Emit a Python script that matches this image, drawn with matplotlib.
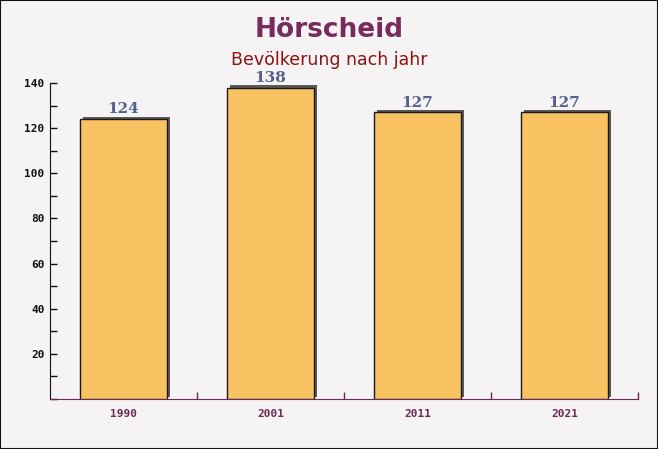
import matplotlib
matplotlib.use("Agg")
import matplotlib.pyplot as plt
import matplotlib.patheffects as pe
from matplotlib.ticker import MultipleLocator, FixedLocator

years = ["1990", "2001", "2011", "2021"]
population = [124, 138, 127, 127]

title = "Hörscheid"
subtitle = "Bevölkerung nach jahr"

fig = plt.figure(figsize=(6.58, 4.49), dpi=100)
fig.patch.set_facecolor("#f5f3f3")
ax = fig.add_axes([50/658, 1-399/449, (638-50)/658, (399-83)/449])
ax.set_facecolor("none")

x = list(range(len(years)))
bars = ax.bar(x, population, width=0.59, color="#f9c263", alpha=1.0,
              edgecolor="#1a1a1a", linewidth=1.0, zorder=3)
for b in bars:
    b.set_path_effects([pe.SimplePatchShadow(offset=(2.3, 1.8), shadow_rgbFace="#5d5858", alpha=1.0),
                        pe.Normal()])

for xi, v in zip(x, population):
    ax.annotate(str(v), (xi, v), xytext=(0, 2), textcoords="offset points",
                ha="center", va="bottom", fontsize=11, fontweight="bold",
                family="DejaVu Serif", color="#56608e", zorder=4)

ax.set_xlim(-0.5, len(years) - 0.5)
ax.set_ylim(0, 140)

ax.yaxis.set_major_locator(FixedLocator([20, 40, 60, 80, 100, 120, 140]))
ax.yaxis.set_minor_locator(MultipleLocator(10))
ax.set_xticks(x)
ax.set_xticklabels(years)
ax.xaxis.set_minor_locator(FixedLocator([i + 0.5 for i in x]))

ax.tick_params(axis="y", which="both", direction="in", length=5, width=1, color="#111111",
               labelsize=8, labelcolor="#111111", pad=4)
ax.tick_params(axis="x", which="major", length=0, labelsize=8, labelcolor="#6b2a52", pad=7)
ax.tick_params(axis="x", which="minor", direction="in", length=5, width=1, color="#6b2a52")
for lab in ax.get_yticklabels() + ax.get_xticklabels():
    lab.set_family("DejaVu Sans Mono")
    lab.set_fontweight("bold")

for s in ["top", "right"]:
    ax.spines[s].set_visible(False)
ax.spines["left"].set_color("#111111")
ax.spines["bottom"].set_color("#6b2a52")

fig.text(0.5, 1-30/449, title, ha="center", va="center", fontsize=19, fontweight="bold",
         color="#772a5b", family="DejaVu Sans")
fig.text(0.5, 1-60/449, subtitle, ha="center", va="center", fontsize=12.5,
         color="#8b1212", family="DejaVu Sans")

border = plt.Rectangle((0, 0), 1, 1, transform=fig.transFigure, fill=False,
                       edgecolor="#111111", linewidth=1.5)
fig.patches.append(border)

fig.savefig("out.png", dpi=100, facecolor=fig.get_facecolor())
